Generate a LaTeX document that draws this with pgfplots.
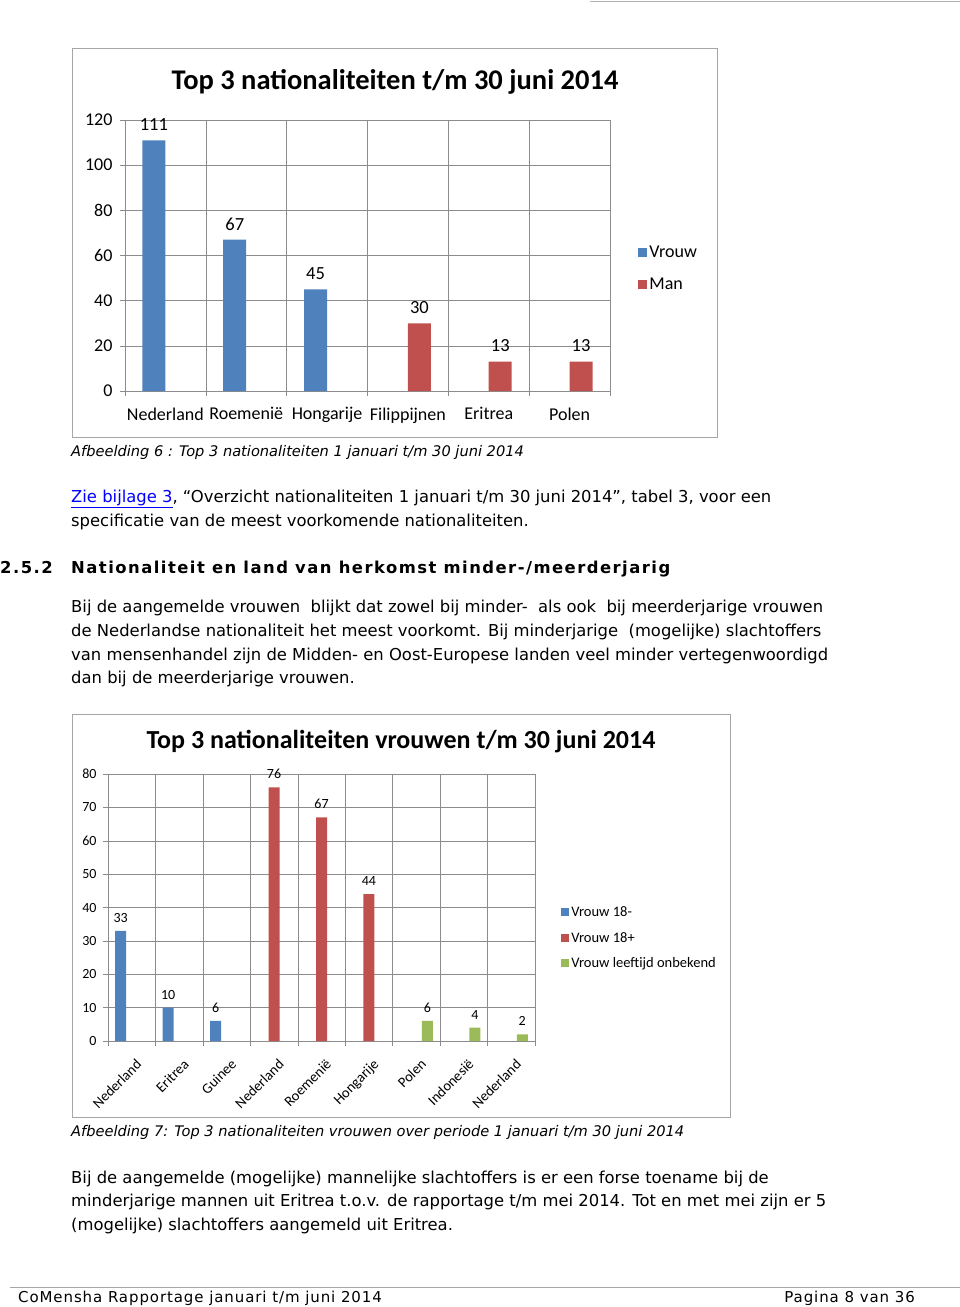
\documentclass[border=0pt]{standalone}
\usepackage{fontspec}
\usepackage{pgfplots}
\pgfplotsset{compat=1.18}
\setmainfont{DejaVu Sans}
\newfontfamily\calibri{Carlito}
\newfontfamily\spaced[LetterSpace=9]{DejaVu Sans}
\newfontfamily\footfont[LetterSpace=6]{DejaVu Sans}

\definecolor{xlblue}{HTML}{4F81BD}
\definecolor{xlred}{HTML}{C0504D}
\definecolor{xlgreen}{HTML}{9BBB59}
\definecolor{gridgray}{HTML}{8C8C8C}
\definecolor{framegray}{HTML}{A6A6A6}
\definecolor{linkblue}{HTML}{0000FF}

\newcommand\fs[1]{\fontsize{#1}{#1}\selectfont}

% shared look of the two Excel-style bar charts
\pgfplotsset{
  xlchart/.style={
    scale only axis,
    ybar,
    axis line style={gridgray},
    tick style={gridgray, thin},
    grid style={gridgray, thin},
    grid=major,
    tick align=outside,
    xtick pos=bottom, ytick pos=left,
    major tick length=5pt,
    x tick label as interval,
    /pgf/number format/assume math mode=true,
    ymin=0,
    nodes near coords,
    legend cell align=left,
  },
}

\tikzset{txt/.style={anchor=base west, inner sep=0pt, font=\fs{16.4}}}

\begin{document}
\begin{tikzpicture}
\useasboundingbox (0,0) rectangle (960pt,-1307pt);

% page rules
\draw[gray!60, line width=1pt] (590pt,-1pt) -- (960pt,-1pt);
\draw[gray!70, line width=1pt] (10pt,-1287pt) -- (960pt,-1287pt);

% ---------- chart 1 ----------
\draw[framegray, line width=1pt] (72pt,-48pt) rectangle (717pt,-437pt);
\node[font=\calibri\bfseries\fs{28.5}] at (395pt,-82pt) {Top 3 nationaliteiten t/m 30 juni 2014};

\begin{axis}[xlchart,
  at={(125pt,-391pt)}, anchor=south west,
  width=485pt, height=271pt,
  ymax=120, ytick={0,20,...,120},
  xmin=-0.5, xmax=5.5,
  xtick={-0.5,0.5,1.5,2.5,3.5,4.5,5.5},
  xticklabels={Nederland,Roemenië,Hongarije,Filippijnen,Eritrea,Polen},
  bar width=23pt,
  tick label style={font=\calibri\fs{18}},
  xticklabel style={yshift=-8pt},
  yticklabel style={xshift=-4pt},
  nodes near coords style={font=\calibri\fs{18.5}, yshift=6pt},
  legend style={draw=none, fill=none, at={(1.052,0.451)}, anchor=west,
    font=\calibri\fs{18}, row sep=15pt},
  legend image code/.code={\fill[#1] (0pt,-4.5pt) rectangle (9pt,4.5pt);},
]
\addplot[fill=xlblue, draw=none, bar shift=-11.5pt] coordinates {(0,111) (1,67) (2,45)};
\addplot[fill=xlred, draw=none, bar shift=11.5pt] coordinates {(3,30) (4,13) (5,13)};
\legend{Vrouw, Man}
\end{axis}

% ---------- text between the charts ----------
\node[txt, font=\itshape\fs{14.6}] at (71pt,-456pt)
  {Afbeelding 6 : Top 3 nationaliteiten 1 januari t/m 30 juni 2014};
\node[txt] at (71pt,-502pt)
  {\textcolor{linkblue}{\underline{Zie bijlage 3}}, “Overzicht nationaliteiten 1 januari t/m 30 juni 2014”, tabel 3, voor een};
\node[txt] at (71pt,-526pt)
  {specificatie van de meest voorkomende nationaliteiten.};
\node[txt, font=\spaced\bfseries\fs{16.4}] at (0pt,-573pt) {2.5.2};
\node[txt, font=\spaced\bfseries\fs{16.4}] at (71pt,-573pt)
  {Nationaliteit en land van herkomst minder-/meerderjarig};
\node[txt] at (71pt,-612pt)
  {Bij de aangemelde vrouwen\ \ blijkt dat zowel bij minder-\ \ als ook\ \ bij meerderjarige vrouwen};
\node[txt] at (71pt,-636pt)
  {de Nederlandse nationaliteit het meest voorkomt. Bij minderjarige\ \ (mogelijke) slachtoffers};
\node[txt] at (71pt,-660pt)
  {van mensenhandel zijn de Midden- en Oost-Europese landen veel minder vertegenwoordigd};
\node[txt] at (71pt,-683pt)
  {dan bij de meerderjarige vrouwen.};

% ---------- chart 2 ----------
\draw[framegray, line width=1pt] (72pt,-714pt) rectangle (730pt,-1117pt);
\node[font=\calibri\bfseries\fs{26}] at (401pt,-742pt) {Top 3 nationaliteiten vrouwen t/m 30 juni 2014};

\begin{axis}[xlchart,
  at={(108pt,-1041pt)}, anchor=south west,
  width=427pt, height=267pt,
  ymax=80, ytick={0,10,...,80},
  xmin=-0.5, xmax=8.5,
  xtick={-0.5,0.5,1.5,2.5,3.5,4.5,5.5,6.5,7.5,8.5},
  xticklabels={Nederland,Eritrea,Guinee,Nederland,Roemenië,Hongarije,Polen,Indonesië,Nederland},
  bar width=11pt,
  tick label style={font=\calibri\fs{14}},
  yticklabel style={xshift=-3pt},
  xticklabel style={font=\calibri\fs{14.5}, rotate=45, anchor=north east, inner sep=1pt, xshift=-5pt, yshift=-10pt},
  nodes near coords style={font=\calibri\fs{14}, yshift=5pt},
  legend style={draw=none, fill=none, at={(1.054,0.386)}, anchor=west,
    font=\calibri\fs{14.5}, row sep=10pt},
  legend image code/.code={\fill[#1] (0pt,-4pt) rectangle (8pt,4pt);},
]
\addplot[fill=xlblue, draw=none, bar shift=-11pt] coordinates {(0,33) (1,10) (2,6)};
\addplot[fill=xlred, draw=none, bar shift=0pt] coordinates {(3,76) (4,67) (5,44)};
\addplot[fill=xlgreen, draw=none, bar shift=11pt] coordinates {(6,6) (7,4) (8,2)};
\legend{Vrouw 18-, Vrouw 18+, Vrouw leeftijd onbekend}
\end{axis}

% ---------- text below chart 2 ----------
\node[txt, font=\itshape\fs{14.6}] at (71pt,-1136pt)
  {Afbeelding 7: Top 3 nationaliteiten vrouwen over periode 1 januari t/m 30 juni 2014};
\node[txt] at (71pt,-1183pt)
  {Bij de aangemelde (mogelijke) mannelijke slachtoffers is er een forse toename bij de};
\node[txt] at (71pt,-1206pt)
  {minderjarige mannen uit Eritrea t.o.v. de rapportage t/m mei 2014. Tot en met mei zijn er 5};
\node[txt] at (71pt,-1230pt)
  {(mogelijke) slachtoffers aangemeld uit Eritrea.};

% footer
\node[txt, font=\footfont\fs{15}] at (18pt,-1302pt)
  {CoMensha Rapportage januari t/m juni 2014};
\node[txt, anchor=base east, font=\footfont\fs{15}] at (915pt,-1302pt)
  {Pagina 8 van 36};
\end{tikzpicture}
\end{document}
